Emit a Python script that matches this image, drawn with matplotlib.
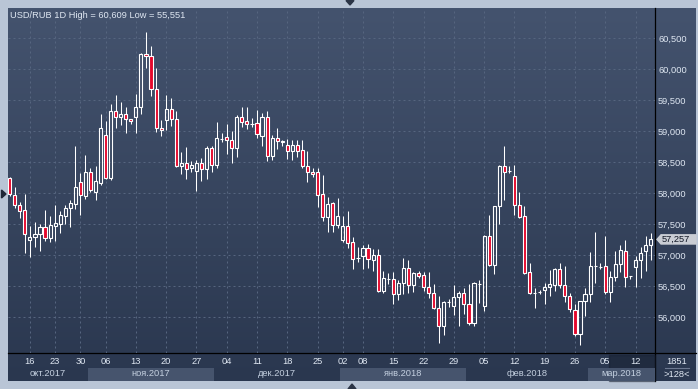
import matplotlib
matplotlib.use('Agg')
import matplotlib.pyplot as plt
import numpy as np
from matplotlib.colors import LinearSegmentedColormap
from matplotlib.patches import Polygon, Rectangle


# daily USD/RUB candles, oldest first
opens = [58242, 57968, 57807, 57726, 57242, 57291, 57339, 57457, 57274, 57479,
         57511, 57640, 57758, 57833, 58178, 57963, 58344, 58027, 58172, 58941,
         58253, 59323, 59226, 59274, 59194, 59237, 59387, 60242, 60210, 59677,
         59059, 59178, 59355, 59194, 58446, 58484, 58403, 58355, 58484, 58387,
         58731, 58452, 58880, 58903, 58855, 58726, 59226, 59161, 59124, 59129,
         58930, 59226, 58608, 58887, 58834, 58774, 58688, 58774, 58694, 58446,
         58344, 58344, 57984, 57624, 57839, 57484, 57253, 57468, 57210, 56963,
         56989, 57113, 56925, 57006, 56425, 56624, 56613, 56371, 56549, 56791,
         56516, 56710, 56683, 56484, 56387, 56156, 55866, 56243, 56188, 56334,
         56387, 56210, 55914, 56533, 56188, 57312, 56850, 57791, 58436, 58366,
         58274, 57812, 57629, 56726, 56398, 56409, 56436, 56484, 56516, 56780,
         56522, 56344, 56118, 55726, 56258, 56371, 56828, 56815, 56828, 56403,
         56656, 56860, 57065, 56661, 56807, 56920, 57065, 57162]
highs = [58270, 58097, 57855, 57984, 57473, 57532, 57511, 57731, 57635, 57812,
         57715, 57812, 57898, 58764, 58323, 58618, 58409, 58441, 59280, 59161,
         59441, 59586, 59468, 59393, 59200, 59602, 60263, 60609, 60376, 60022,
         59178, 59586, 59532, 59328, 58667, 58747, 58522, 58538, 58575, 58764,
         58764, 59151, 58973, 59118, 59000, 59264, 59393, 59393, 59210, 59339,
         59296, 59328, 58941, 59048, 58866, 58871, 58866, 58860, 58860, 58683,
         58403, 58403, 58296, 57936, 57855, 57925, 57635, 57715, 57296, 57140,
         57167, 57183, 57102, 57102, 56748, 56715, 56731, 56597, 56952, 56925,
         56731, 56742, 56731, 56731, 56533, 56344, 56269, 56296, 56522, 56430,
         56468, 56533, 56565, 56602, 57320, 57651, 57800, 58452, 58764, 58446,
         58452, 58022, 57796, 56871, 56468, 56441, 56554, 56758, 56791, 56871,
         56828, 56398, 56221, 56265, 56468, 57049, 57377, 56871, 57312, 56748,
         57070, 57167, 57242, 56672, 56989, 57140, 57317, 57360]
lows = [57960, 57769, 57608, 57043, 56979, 57140, 57075, 57231, 57220, 57237,
        57366, 57500, 57463, 57753, 57656, 57914, 58016, 57898, 58135, 58231,
        58210, 59059, 59102, 58968, 59124, 58979, 59280, 60027, 59575, 58995,
        58930, 59021, 59091, 58430, 58317, 58237, 58350, 58043, 58204, 58237,
        58350, 58414, 58833, 58640, 58495, 58592, 59070, 59038, 59070, 58898,
        58769, 58522, 58543, 58715, 58769, 58554, 58543, 58592, 58414, 58188,
        58269, 57785, 57559, 57382, 57382, 57446, 57220, 57113, 56785, 56898,
        56780, 56796, 56748, 56403, 56393, 56533, 56210, 56275, 56382, 56398,
        56414, 56640, 56430, 56317, 56135, 55580, 55715, 56172, 56038, 55860,
        56059, 55877, 55860, 56237, 56108, 56823, 56705, 57511, 57898, 58328,
        57651, 57608, 56694, 56382, 56156, 56382, 56221, 56350, 56430, 56479,
        56243, 56081, 55694, 55551, 56027, 56253, 56554, 56774, 56382, 56253,
        56592, 56737, 56484, 56619, 56484, 56629, 56753, 56920]
closes = [57984, 57812, 57710, 57339, 57291, 57339, 57457, 57274, 57484, 57516,
          57645, 57764, 57839, 58097, 57968, 58344, 58049, 58199, 59048, 58253,
          59323, 59226, 59274, 59194, 59161, 59393, 60247, 60210, 59677, 59048,
          59016, 59355, 59194, 58436, 58484, 58398, 58452, 58484, 58387, 58731,
          58452, 58887, 58884, 58855, 58737, 59226, 59156, 59124, 59118, 58952,
          59226, 58608, 58887, 58839, 58836, 58688, 58774, 58688, 58446, 58339,
          58307, 57979, 57624, 57823, 57484, 57635, 57468, 57205, 56936, 56960,
          57113, 56946, 57006, 56425, 56635, 56626, 56371, 56554, 56791, 56516,
          56715, 56667, 56484, 56387, 56156, 55866, 56248, 56245, 56323, 56387,
          56210, 55914, 56549, 56535, 57312, 56850, 57791, 58436, 58350, 58368,
          57807, 57618, 56721, 56387, 56400, 56410, 56484, 56538, 56780, 56516,
          56344, 56129, 55726, 56258, 56371, 56828, 56830, 56819, 56403, 56656,
          56860, 57081, 56651, 56663, 56920, 57043, 57162, 57257]

price_ticks = [56000, 56500, 57000, 57500, 58000, 58500, 59000, 59500, 60000, 60500]
day_ticks = [4, 9, 14, 19, 25, 31, 37, 43, 49, 55, 61, 66, 70, 76, 82, 88, 94, 100, 106, 112, 118, 124]
day_labels = ['16', '23', '30', '06', '13', '20', '27', '04', '11', '18', '25',
              '02', '08', '15', '22', '29', '05', '12', '19', '26', '05', '12']
month_names = ['окт.2017', 'ноя.2017', 'дек.2017', 'янв.2018', 'фев.2018', 'мар.2018']
month_starts = [-0.5, 15.5, 40.5, 65.5, 90.5, 114.5]

title = 'USD/RUB 1D High = 60,609 Low = 55,551'
total_bars = 1851

plt.rcParams['font.family'] = ['Liberation Sans', 'DejaVu Sans']
FS = 6.7
TXT = '#dfe7f2'
RED = '#e4082c'
GRID = '#56657f'

W, H = 698, 389
fig = plt.figure(figsize=(W / 100, H / 100), dpi=100)

# background / frame drawn in pixel coordinates
bg = fig.add_axes([0, 0, 1, 1], zorder=0)
bg.axis('off')
bg.add_patch(Rectangle((0, 0), W, H, color='#b9c5d6', zorder=0))
cmap = LinearSegmentedColormap.from_list('panel', ['#44536e', '#2a374f'])
bg.imshow(np.linspace(0, 1, 256).reshape(-1, 1), cmap=cmap, aspect='auto',
          extent=[8, 696, 381, 8], interpolation='bilinear', zorder=1)
bg.plot([655, 655], [8, 381], color='black', lw=0.9, zorder=3)
bg.plot([8, 696], [353, 353], color='black', lw=0.9, zorder=3)
bg.add_patch(Polygon([(346, 0.5), (354, 0.5), (350, 5)], color='#2b3446', zorder=3))
bg.add_patch(Polygon([(348, 389), (356, 389), (352, 384)], color='#2b3446', zorder=3))
bg.add_patch(Polygon([(1.5, 190), (1.5, 198), (6, 194)], color='#1f2738', zorder=3))
bg.text(677, 362, str(total_bars), ha='center', va='center', fontsize=FS, color=TXT, zorder=4)
bg.plot([665, 689], [368, 368], color='#6c7890', lw=0.8, zorder=3)
bg.text(677, 374.5, '>%d<' % len(opens), ha='center', va='center', fontsize=FS, color=TXT, zorder=4)

# candles
x = np.arange(len(opens))
o = np.array(opens)
c = np.array(closes)
hi = np.array(highs)
lo = np.array(lows)
top = np.maximum(o, c)
bot = np.minimum(o, c)

ax = fig.add_axes([8 / W, (H - 353) / H, 647 / W, 345 / H], zorder=2)
ax.patch.set_alpha(0)
for s in ax.spines.values():
    s.set_visible(False)

ax.vlines(x, top, hi, color='white', lw=0.75, zorder=3)
ax.vlines(x, lo, bot, color='white', lw=0.75, zorder=3)
up = c >= o
ax.bar(x[up], (top - bot)[up], bottom=bot[up], width=0.62, facecolor='none',
       edgecolor='white', linewidth=0.8, zorder=4)
ax.bar(x[~up], (top - bot)[~up], bottom=bot[~up], width=0.62, facecolor=RED,
       edgecolor='white', linewidth=0.8, zorder=4)
ax.set_xlim(-0.34, 127.86)
ax.set_ylim(55425, 60989)

ax.set_yticks(price_ticks)
ax.set_yticklabels(['{:,}'.format(v) for v in price_ticks])
ax.yaxis.tick_right()
ax.tick_params(axis='y', length=0, pad=2.2, labelsize=FS, labelcolor=TXT)
ax.set_xticks(day_ticks)
ax.tick_params(axis='x', length=0, labelbottom=False)
ax.grid(True, color=GRID, lw=0.72, linestyle=(0, (2, 3)))
ax.set_axisbelow(True)
ax.text(2.5 / 647, 1 - 2.5 / 345, title, transform=ax.transAxes, ha='left', va='top',
        fontsize=FS, color=TXT)

# last price tag
py = H - ax.transData.transform((0, closes[-1]))[1]
bg.add_patch(Polygon([(657, py), (661, py - 4.6), (696, py - 4.6), (696, py + 4.6),
                      (661, py + 4.6)], color='#c9cdd4', zorder=5))
bg.text(662, py + 0.3, '{:,}'.format(closes[-1]), ha='left', va='center', fontsize=FS,
        color='#101624', zorder=6)
bg.add_patch(Rectangle((609, 355), 46, 26, color='#141c2c', alpha=0.45, zorder=5))
bg.set_xlim(0, W)
bg.set_ylim(H, 0)

# date axis
dax = fig.add_axes([8 / W, (H - 381) / H, 647 / W, 28 / H], zorder=1)
dax.patch.set_alpha(0)
dax.set_xlim(ax.get_xlim())
dax.set_ylim(0, 28)
dax.axis('off')
x0, x1 = ax.get_xlim()
ends = month_starts[1:] + [x1]
for k, name in enumerate(month_names):
    a = max(month_starts[k], x0)
    b = min(ends[k], x1)
    if k % 2 == 1:
        dax.axvspan(a, b, 0, 13 / 28, color='#46546d', lw=0)
    dax.text((a + b) / 2, 7.5, name, ha='center', va='center', fontsize=FS, color='#c3cfdf')
for t, lab in zip(day_ticks, day_labels):
    dax.text(t, 19, lab, ha='center', va='center', fontsize=FS, color=TXT)

fig.savefig('out.png', dpi=100)
